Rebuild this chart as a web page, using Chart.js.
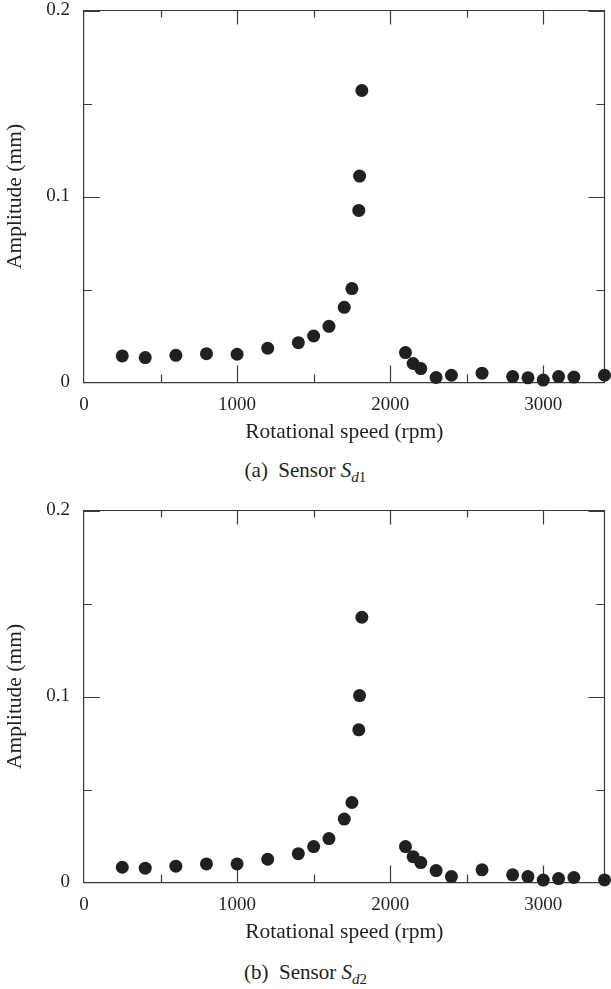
<!DOCTYPE html>
<html>
<head>
<meta charset="utf-8">
<script src="https://cdn.jsdelivr.net/npm/chart.js@4.4.1/dist/chart.umd.min.js"></script>
<style>
  body { margin: 0; background: #fff; width: 611px; height: 989px; position: relative; overflow: hidden; }
  canvas { position: absolute; left: 0; }
  .cap { position: absolute; left: 0; width: 611px; text-align: center; font: 21px "Liberation Serif", serif; line-height: 21px; color: #231f20; }
  .cap sub { font-size: 0.72em; vertical-align: baseline; position: relative; top: 0.3em; }
</style>
</head>
<body>
<canvas id="chartSd1" width="611" height="455" style="top:0"></canvas>
<div class="cap" style="top:460px">(a)&nbsp; Sensor <i>S</i><sub><i>d</i>1</sub></div>
<canvas id="chartSd2" width="611" height="455" style="top:500px"></canvas>
<div class="cap" style="top:962px">(b)&nbsp; Sensor <i>S</i><sub><i>d</i>2</sub></div>

<script>
// rotational speed (rpm), same for both sensors
const speeds = [250, 400, 600, 800, 1000, 1200, 1400, 1500, 1600, 1700, 1750, 1795, 1800, 1815,
                2100, 2150, 2200, 2300, 2400, 2600, 2800, 2900, 3000, 3100, 3200, 3400];

// amplitude (mm)
const ampSd1 = [0.0143, 0.0134, 0.0146, 0.0155, 0.0152, 0.0184, 0.0214, 0.0250, 0.0302, 0.0404, 0.0505, 0.0925, 0.1110, 0.1570,
                0.0161, 0.0102, 0.0075, 0.0027, 0.0039, 0.0050, 0.0032, 0.0025, 0.0013, 0.0032, 0.0029, 0.0039];
const ampSd2 = [0.0082, 0.0077, 0.0088, 0.0100, 0.0100, 0.0125, 0.0155, 0.0193, 0.0236, 0.0341, 0.0430, 0.0821, 0.1005, 0.1426,
                0.0193, 0.0139, 0.0107, 0.0064, 0.0032, 0.0068, 0.0041, 0.0032, 0.0013, 0.0021, 0.0027, 0.0014];

// tick positions (all get a mark) and the ones that carry a label
const xTickValues = [0, 500, 1000, 1500, 2000, 2500, 3000];
const xTickLabels = [0, 1000, 2000, 3000];
const yTickValues = [0, 0.05, 0.1, 0.15, 0.2];
const yTickLabels = [0, 0.1, 0.2];

const INK = '#231f20';
const FRAME = '#3a3a3a';
const SERIF = '"Liberation Serif", "DejaVu Serif", serif';

const isLabel = (list, v) => list.some(l => Math.abs(l - v) < 1e-9);

// frame on top/right + inward tick marks on all four sides
const frameTicks = {
  id: 'frameTicks',
  beforeDatasetsDraw(chart) {
    const { ctx, chartArea: a } = chart;
    const x = chart.scales.x, y = chart.scales.y;
    ctx.save();
    ctx.strokeStyle = FRAME;
    ctx.lineWidth = 1.2;
    ctx.beginPath();
    ctx.moveTo(a.left, a.top); ctx.lineTo(a.right, a.top); ctx.lineTo(a.right, a.bottom);

    // bottom and top edges
    for (const v of xTickValues) {
      if (v <= 0) continue;
      const px = Math.round(x.getPixelForValue(v)) + 0.5;
      const major = isLabel(xTickLabels, v);
      ctx.moveTo(px, a.bottom); ctx.lineTo(px, a.bottom - (major ? 17 : 8));
      ctx.moveTo(px, a.top); ctx.lineTo(px, a.top + (major ? 14 : 7));
    }
    // left and right edges
    for (const v of yTickValues) {
      if (v <= 0) continue;
      const py = Math.round(y.getPixelForValue(v)) + 0.5;
      const len = isLabel(yTickLabels, v) ? 16 : 8;
      ctx.moveTo(a.left, py); ctx.lineTo(a.left + len, py);
      ctx.moveTo(a.right, py); ctx.lineTo(a.right - len, py);
    }
    ctx.stroke();
    ctx.restore();
  }
};

function makeChart(id, amps) {
  const pts = speeds.map((s, i) => ({ x: s, y: amps[i] }));
  return new Chart(document.getElementById(id), {
    type: 'scatter',
    data: {
      datasets: [{
        data: pts,
        pointRadius: 6.5,
        pointHoverRadius: 6.5,
        pointBackgroundColor: INK,
        pointBorderWidth: 0,
        clip: false
      }]
    },
    options: {
      responsive: false,
      animation: false,
      devicePixelRatio: 1,
      layout: { padding: { top: 10.5, right: 3, left: 0, bottom: 0 } },
      plugins: { legend: { display: false }, tooltip: { enabled: false } },
      scales: {
        x: {
          type: 'linear', min: 0, max: 3400,
          afterBuildTicks: s => { s.ticks = xTickValues.map(v => ({ value: v })); },
          afterFit: s => { s.height = 72.5; s.paddingLeft = 0; s.paddingRight = 0; },
          grid: { display: false, drawTicks: false },
          border: { display: true, color: FRAME, width: 1.2 },
          ticks: {
            autoSkip: false, maxRotation: 0, padding: 13,
            color: INK, font: { family: SERIF, size: 19, lineHeight: 1 },
            callback: v => isLabel(xTickLabels, v) ? String(v) : ''
          },
          title: {
            display: true, text: 'Rotational speed (rpm)', color: INK,
            font: { family: SERIF, size: 21.5, lineHeight: 1.2 },
            padding: { top: 0, bottom: 10 }
          }
        },
        y: {
          type: 'linear', min: 0, max: 0.2,
          afterBuildTicks: s => { s.ticks = yTickValues.map(v => ({ value: v })); },
          afterFit: s => { s.width = 84; s.paddingTop = 0; s.paddingBottom = 0; },
          grid: { display: false, drawTicks: false },
          border: { display: true, color: FRAME, width: 1.2 },
          ticks: {
            autoSkip: false, padding: 14,
            color: INK, font: { family: SERIF, size: 19, lineHeight: 1 },
            callback: v => isLabel(yTickLabels, v) ? String(Math.round(v * 10) / 10) : ''
          },
          title: {
            display: true, text: 'Amplitude (mm)', color: INK,
            font: { family: SERIF, size: 21.5, lineHeight: 1.2 },
            padding: { top: 2, bottom: 0 }
          }
        }
      }
    },
    plugins: [frameTicks]
  });
}

makeChart('chartSd1', ampSd1);
makeChart('chartSd2', ampSd2);
</script>
</body>
</html>
